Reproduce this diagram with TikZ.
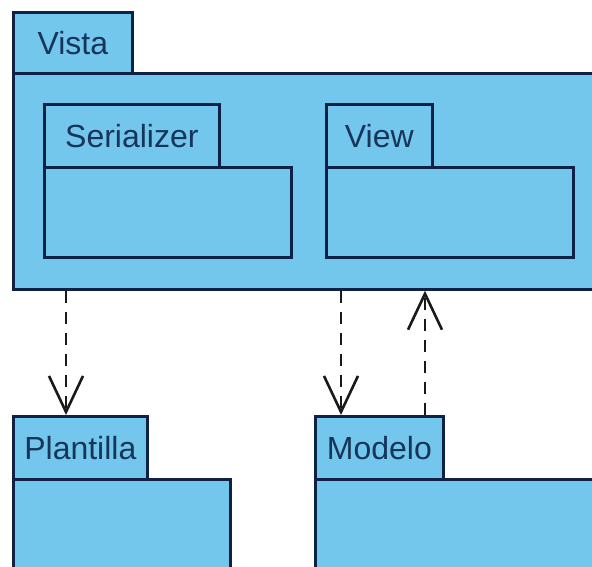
\documentclass[tikz,border=0pt]{standalone}
\usepackage{fontspec}
\setmainfont{Liberation Sans}
\usetikzlibrary{arrows.meta,calc}
\definecolor{Sky}{HTML}{74C7EC}
\definecolor{Ink}{HTML}{0F2145}
\definecolor{Label}{HTML}{17355A}

\begin{document}
\begin{tikzpicture}[x=1pt, y=-1pt,
    pkgtab/.style={draw=Ink, fill=Sky, text=Label, line width=2.7pt, anchor=north west, inner sep=0pt, minimum height=63pt, font=\fontsize{32}{36}\selectfont},
    pkgbody/.style={draw=Ink, fill=Sky, line width=2.7pt, anchor=north west, inner sep=0pt},
    dep/.style={-{Straight Barb[length=36pt, width=34pt, line width=2.6pt]}, dash pattern=on 12pt off 9pt, line width=2.6pt, draw=black!90}
  ]
    \useasboundingbox (0,0) rectangle (592,567);
    \clip (0,0) rectangle (592,567);

    % outer package
    \node[pkgbody, minimum width=620pt, minimum height=216pt] (vista) at (12,72) {};
    \node[pkgtab, minimum width=119pt, minimum height=61pt] (vistaTab) at (12,11) {Vista};

    % nested packages
    \node[pkgtab, minimum width=175pt] (serializerTab) at (43,103) {Serializer};
    \node[pkgbody, minimum width=247pt, minimum height=90pt] (serializer) at (43,166) {};
    \node[pkgtab, minimum width=106pt] (viewTab) at (325,103) {View};
    \node[pkgbody, minimum width=247pt, minimum height=90pt] (view) at (325,166) {};

    % lower packages
    \node[pkgtab, minimum width=134pt] (plantillaTab) at (12,415) {Plantilla};
    \node[pkgbody, minimum width=217pt, minimum height=120pt] (plantilla) at (12,478) {};
    \node[pkgtab, minimum width=128pt] (modeloTab) at (314,415) {Modelo};
    \node[pkgbody, minimum width=300pt, minimum height=120pt] (modelo) at (314,478) {};

    % dependencies
    \draw[dep] ($(plantillaTab.north west |- vista.south)+(54,0)$) -- ($(plantillaTab.north west)+(54,0)$);
    \draw[dep] ($(modeloTab.north west |- vista.south)+(27,0)$) -- ($(modeloTab.north west)+(27,0)$);
    \draw[dep] ($(modeloTab.north west)+(111,0)$) -- ($(modeloTab.north west |- vista.south)+(111,0)$);
  \end{tikzpicture}
\end{document}
